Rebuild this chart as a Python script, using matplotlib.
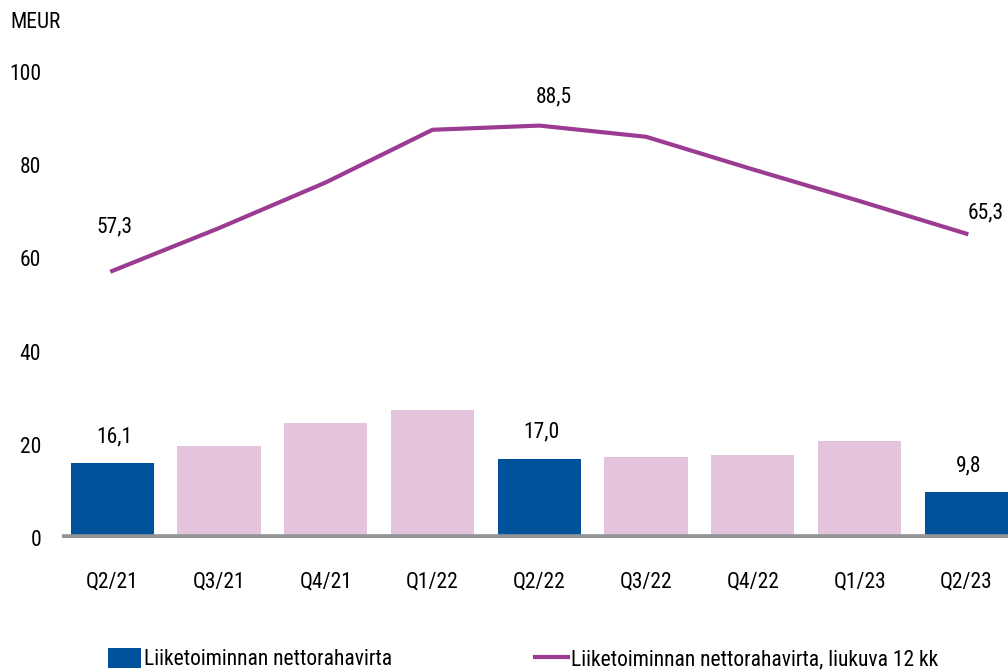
import matplotlib.pyplot as plt
from matplotlib.patches import Patch
from matplotlib.lines import Line2D

plt.rcParams['font.family'] = ['Liberation Sans Narrow', 'Roboto Condensed', 'Lato', 'DejaVu Sans']

quarters = ['Q2/21', 'Q3/21', 'Q4/21', 'Q1/22', 'Q2/22', 'Q3/22', 'Q4/22', 'Q1/23', 'Q2/23']
cash_flow = [16.1, 19.7, 24.6, 27.4, 17.0, 17.3, 17.8, 20.8, 9.8]
rolling_12m = [57.3, 66.5, 76.3, 87.6, 88.5, 86.1, 79.1, 72.3, 65.3]
bar_labels = {0: '16,1', 4: '17,0', 8: '9,8'}
line_labels = {0: '57,3', 4: '88,5', 8: '65,3'}

blue = '#00529B'
pink = '#E4C4DD'
purple = '#9B3C92'
fs = 15.5

fig = plt.figure(figsize=(10.08, 6.71), dpi=100)
ax = fig.add_axes([62 / 1008, 133 / 671, 946 / 1008, 466 / 671])

x = list(range(len(quarters)))
colors = [blue if q.startswith('Q2') else pink for q in quarters]
ax.bar(x, cash_flow, width=0.78, color=colors, zorder=2)
ax.plot(x, rolling_12m, color=purple, lw=3, zorder=3)
ax.axhline(0, color='#939598', lw=5.5, zorder=4)

# data labels (offsets in pixels, like the manual Excel labels)
for i, txt in bar_labels.items():
    ax.annotate(txt, (x[i], cash_flow[i]), xytext=(2, 16), textcoords='offset pixels',
                ha='center', va='bottom', fontsize=fs)
line_off = {0: (2, 34), 4: (15, 18), 8: (19, 10)}
for i, txt in line_labels.items():
    ax.annotate(txt, (x[i], rolling_12m[i]), xytext=line_off[i], textcoords='offset pixels',
                ha='center', va='bottom', fontsize=fs)

ax.set_xlim(-0.47, 8.39)
ax.set_ylim(0, 100)
ax.set_yticks([0, 20, 40, 60, 80, 100])
ax.set_xticks(x)
ax.set_xticklabels(quarters)
ax.tick_params(axis='both', length=0, labelsize=fs)
ax.tick_params(axis='y', pad=15)
ax.tick_params(axis='x', pad=24)
for s in ax.spines.values():
    s.set_visible(False)

fig.text(10 / 1008, 1 - 22 / 671, 'MEUR', fontsize=fs, va='center', ha='left')

# two legend entries placed like the reference
leg_kw = dict(loc='center left', frameon=False, fontsize=fs, handlelength=1.55,
              handleheight=1.1, handletextpad=0.1, borderaxespad=0, borderpad=0)
fig.legend([Patch(facecolor=blue, edgecolor='none')], ['Liiketoiminnan nettorahavirta'],
           bbox_to_anchor=(108 / 1008, 1 - 659 / 671), **leg_kw)
fig.legend([Line2D([0], [0], color=purple, lw=3)], ['Liiketoiminnan nettorahavirta, liukuva 12 kk'],
           bbox_to_anchor=(535 / 1008, 1 - 659 / 671), **leg_kw)

fig.savefig('out.png', dpi=100)
